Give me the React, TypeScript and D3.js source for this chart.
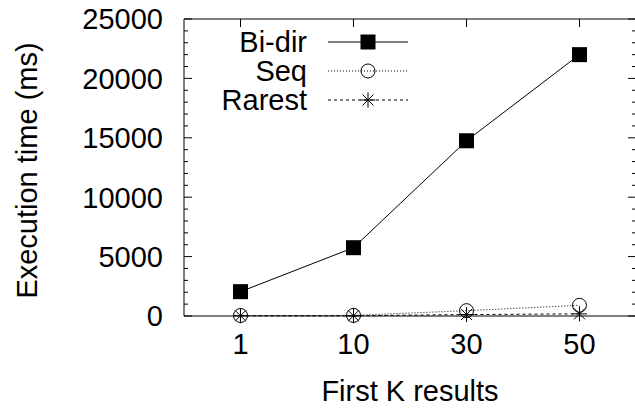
import React from "react";
import * as d3 from "d3";

const categories = ["1", "10", "30", "50"];
const biDir = [2050, 5750, 14750, 22000];
const seq = [40, 50, 450, 900];
const rarest = [20, 20, 120, 180];
const yTicks = [0, 5000, 10000, 15000, 20000, 25000];
const seriesNames = ["Bi-dir", "Seq", "Rarest"];

const W = 635;
const H = 412;
const M = { left: 184, right: 636, top: 19, bottom: 316 };
const FONT = "'Liberation Sans', Arial, Helvetica, sans-serif";

function Marker({ kind, x, y }: { kind: string; x: number; y: number }) {
  if (kind === "square") {
    return <rect x={x - 7.5} y={y - 7.5} width={15} height={15} fill="#000" />;
  }
  if (kind === "circle") {
    return <circle cx={x} cy={y} r={7} fill="none" stroke="#000" strokeWidth={1} />;
  }
  const s = 7.5;
  const d = 5.5;
  return (
    <g stroke="#000" strokeWidth={1}>
      <line x1={x - s} y1={y} x2={x + s} y2={y} />
      <line x1={x} y1={y - s} x2={x} y2={y + s} />
      <line x1={x - d} y1={y - d} x2={x + d} y2={y + d} />
      <line x1={x - d} y1={y + d} x2={x + d} y2={y - d} />
    </g>
  );
}

export default function App() {
  const x = d3
    .scalePoint<string>()
    .domain(categories)
    .range([M.left, M.right])
    .padding(0.5);
  const y = d3.scaleLinear().domain([0, 25000]).range([M.bottom, M.top]);
  const line = d3
    .line<number>()
    .x((_, i) => x(categories[i]) as number)
    .y((v) => y(v));

  const series = [
    { name: seriesNames[0], data: biDir, kind: "square", dash: "none" },
    { name: seriesNames[1], data: seq, kind: "circle", dash: "1,2" },
    { name: seriesNames[2], data: rarest, kind: "star", dash: "3,3" },
  ];

  const minor: number[] = [];
  for (let v = 0; v <= 25000; v += 1000) if (v % 5000 !== 0) minor.push(v);

  return (
    <svg
      width={W}
      height={H}
      style={{ position: "absolute", left: 0, top: 0, background: "#fff" }}
      fontFamily={FONT}
    >
      <rect x={0} y={0} width={W} height={H} fill="#fff" />
      {/* frame */}
      <g stroke="#000" strokeWidth={1} fill="none">
        <line x1={M.left} y1={M.top} x2={M.left} y2={M.bottom} />
        <line x1={M.left} y1={M.bottom} x2={M.right} y2={M.bottom} />
        <line x1={M.left} y1={M.top} x2={M.right} y2={M.top} />
        <line x1={M.right} y1={M.top} x2={M.right} y2={M.bottom} />
      </g>
      {/* ticks */}
      <g stroke="#000" strokeWidth={1}>
        {yTicks.map((t) => (
          <g key={t}>
            <line x1={M.left} y1={y(t)} x2={M.left + 8} y2={y(t)} />
            <line x1={M.right} y1={y(t)} x2={M.right - 8} y2={y(t)} />
          </g>
        ))}
        {minor.map((t) => (
          <g key={t}>
            <line x1={M.left} y1={y(t)} x2={M.left + 4} y2={y(t)} />
            <line x1={M.right} y1={y(t)} x2={M.right - 4} y2={y(t)} />
          </g>
        ))}
        {categories.map((c) => (
          <g key={c}>
            <line x1={x(c)} y1={M.top} x2={x(c)} y2={M.top + 8} />
            <line x1={x(c)} y1={M.bottom} x2={x(c)} y2={M.bottom - 8} />
          </g>
        ))}
      </g>
      {/* labels */}
      <g fontSize={29} fill="#000">
        {yTicks.map((t) => (
          <text key={t} x={163} y={y(t)} dy="0.36em" textAnchor="end">
            {t}
          </text>
        ))}
        {categories.map((c) => (
          <text key={c} x={x(c)} y={354} textAnchor="middle">
            {c}
          </text>
        ))}
        <text x={410} y={401} textAnchor="middle">
          First K results
        </text>
        <text
          transform={`translate(37, ${(M.top + M.bottom) / 2 + 3}) rotate(-90)`}
          textAnchor="middle"
        >
          Execution time (ms)
        </text>
      </g>
      {/* series */}
      {series.map((s) => (
        <g key={s.name}>
          <path
            d={line(s.data) || ""}
            fill="none"
            stroke="#000"
            strokeWidth={1}
            strokeDasharray={s.dash}
          />
          {s.data.map((v, i) => (
            <Marker key={i} kind={s.kind} x={x(categories[i]) as number} y={y(v)} />
          ))}
        </g>
      ))}
      {/* legend */}
      <g fontSize={29} fill="#000">
        {series.map((s, i) => {
          const ly = 42 + i * 29;
          return (
            <g key={s.name}>
              <text x={307} y={ly} dy="0.36em" textAnchor="end">
                {s.name}
              </text>
              <line
                x1={328}
                y1={ly}
                x2={408}
                y2={ly}
                stroke="#000"
                strokeWidth={1}
                strokeDasharray={s.dash}
              />
              <Marker kind={s.kind} x={368} y={ly} />
            </g>
          );
        })}
      </g>
    </svg>
  );
}
